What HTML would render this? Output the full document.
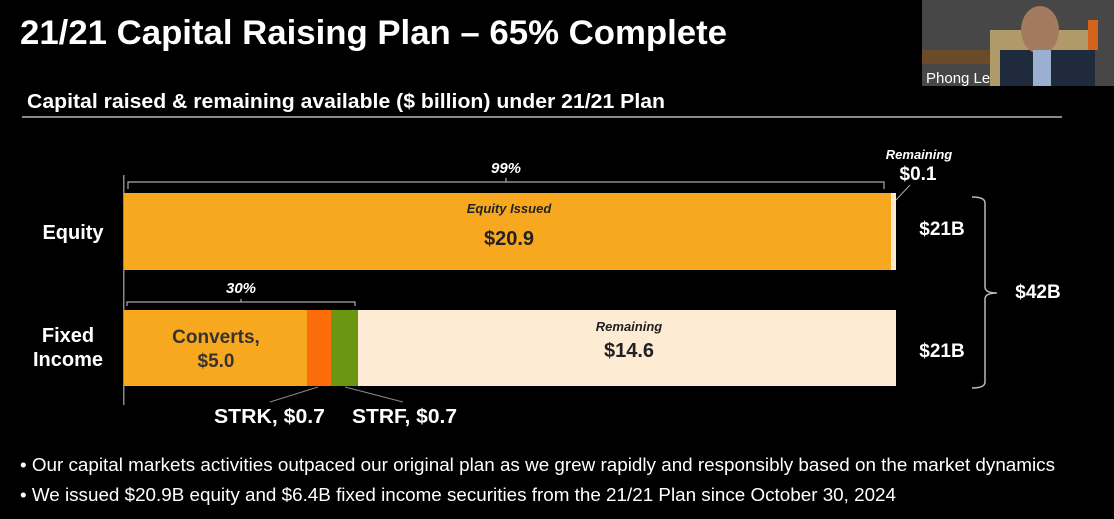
<!DOCTYPE html>
<html><head><meta charset="utf-8"><style>
html,body{margin:0;padding:0;background:#000;width:1114px;height:519px;overflow:hidden}
svg{display:block;font-family:"Liberation Sans",Arial,sans-serif}
</style></head><body>
<svg width="1114" height="519" viewBox="0 0 1114 519">
<rect width="1114" height="519" fill="#000"/>
<text x="20" y="44" fill="#fff" font-size="34" font-weight="bold" textLength="707" lengthAdjust="spacingAndGlyphs">21/21 Capital Raising Plan – 65% Complete</text>
<text x="27" y="108" fill="#fff" font-size="20" font-weight="bold" textLength="638" lengthAdjust="spacingAndGlyphs">Capital raised &amp; remaining available ($ billion) under 21/21 Plan</text>
<rect x="22" y="116" width="1040" height="2" fill="#8a8a8a"/>
<!-- video -->
<rect x="922" y="0" width="192" height="86" fill="#3d3f44"/>
<rect x="922" y="0" width="192" height="86" fill="#5a5650" opacity="0.4"/>
<rect x="922" y="50" width="70" height="14" fill="#6b4a2a"/>
<rect x="990" y="30" width="100" height="56" fill="#b09a6a"/>
<rect x="1000" y="50" width="95" height="36" fill="#1f2a3c"/>
<ellipse cx="1040" cy="30" rx="19" ry="24" fill="#a37a5e"/>
<rect x="1033" y="50" width="18" height="36" fill="#9bb0d0"/>
<rect x="1088" y="20" width="10" height="30" fill="#d4641c"/>
<text x="926" y="83" fill="#fff" font-size="15">Phong Le</text>
<!-- axis -->
<rect x="123" y="175" width="1.5" height="230" fill="#888"/>
<!-- 99% bracket -->
<path d="M128 189 V182 H884 V189 M506 182 V178" stroke="#aaa" stroke-width="1.2" fill="none"/>
<text x="506" y="173" fill="#fff" font-size="15" font-style="italic" font-weight="bold" text-anchor="middle">99%</text>
<text x="919" y="159" fill="#fff" font-size="13" font-style="italic" font-weight="bold" text-anchor="middle">Remaining</text>
<text x="918" y="180" fill="#fff" font-size="19" font-weight="bold" text-anchor="middle">$0.1</text>
<path d="M910 185 L896 200" stroke="#aaa" stroke-width="1"/>
<!-- equity bar -->
<rect x="124" y="193" width="767" height="77" fill="#f8a81f"/>
<rect x="891" y="193" width="5" height="77" fill="#fdebd0"/>
<text x="509" y="213" fill="#222" font-size="13" font-style="italic" font-weight="bold" text-anchor="middle">Equity Issued</text>
<text x="509" y="245" fill="#222" font-size="20" font-weight="bold" text-anchor="middle">$20.9</text>
<text x="73" y="239" fill="#fff" font-size="20" font-weight="bold" text-anchor="middle">Equity</text>
<!-- 30% bracket -->
<path d="M127 306 V302 H355 V306 M241 302 V299" stroke="#aaa" stroke-width="1.2" fill="none"/>
<text x="241" y="293" fill="#fff" font-size="15" font-style="italic" font-weight="bold" text-anchor="middle">30%</text>
<!-- fixed income bar -->
<rect x="124" y="310" width="183" height="76" fill="#f8a81f"/>
<rect x="307" y="310" width="24" height="76" fill="#fb6d0a"/>
<rect x="331" y="310" width="27" height="76" fill="#6a9612"/>
<rect x="358" y="310" width="538" height="76" fill="#fdebd3"/>
<text x="216" y="343" fill="#333" font-size="19" font-weight="bold" text-anchor="middle">Converts,</text>
<text x="216" y="367" fill="#333" font-size="19" font-weight="bold" text-anchor="middle">$5.0</text>
<text x="629" y="331" fill="#222" font-size="13" font-style="italic" font-weight="bold" text-anchor="middle">Remaining</text>
<text x="629" y="357" fill="#222" font-size="20" font-weight="bold" text-anchor="middle">$14.6</text>
<text x="68" y="342" fill="#fff" font-size="20" font-weight="bold" text-anchor="middle">Fixed</text>
<text x="68" y="366" fill="#fff" font-size="20" font-weight="bold" text-anchor="middle">Income</text>
<path d="M318 387 L270 402 M345 387 L403 402" stroke="#888" stroke-width="1"/>
<text x="214" y="423" fill="#fff" font-size="20" font-weight="bold" textLength="111" lengthAdjust="spacingAndGlyphs">STRK, $0.7</text>
<text x="352" y="423" fill="#fff" font-size="20" font-weight="bold" textLength="105" lengthAdjust="spacingAndGlyphs">STRF, $0.7</text>
<!-- right labels -->
<text x="942" y="235" fill="#fff" font-size="19" font-weight="bold" text-anchor="middle">$21B</text>
<text x="942" y="357" fill="#fff" font-size="19" font-weight="bold" text-anchor="middle">$21B</text>
<path d="M972 197 Q985 197 985 203 V287 Q985 293 997 293 Q985 293 985 299 V382 Q985 388 972 388" stroke="#bbb" stroke-width="1.5" fill="none"/>
<text x="1038" y="298" fill="#fff" font-size="19" font-weight="bold" text-anchor="middle">$42B</text>
<!-- bullets -->
<text x="20" y="471" fill="#fff" font-size="18" textLength="1035" lengthAdjust="spacingAndGlyphs">• Our capital markets activities outpaced our original plan as we grew rapidly and responsibly based on the market dynamics</text>
<text x="20" y="501" fill="#fff" font-size="18" textLength="876" lengthAdjust="spacingAndGlyphs">• We issued $20.9B equity and $6.4B fixed income securities from the 21/21 Plan since October 30, 2024</text>
</svg>
</body></html>
